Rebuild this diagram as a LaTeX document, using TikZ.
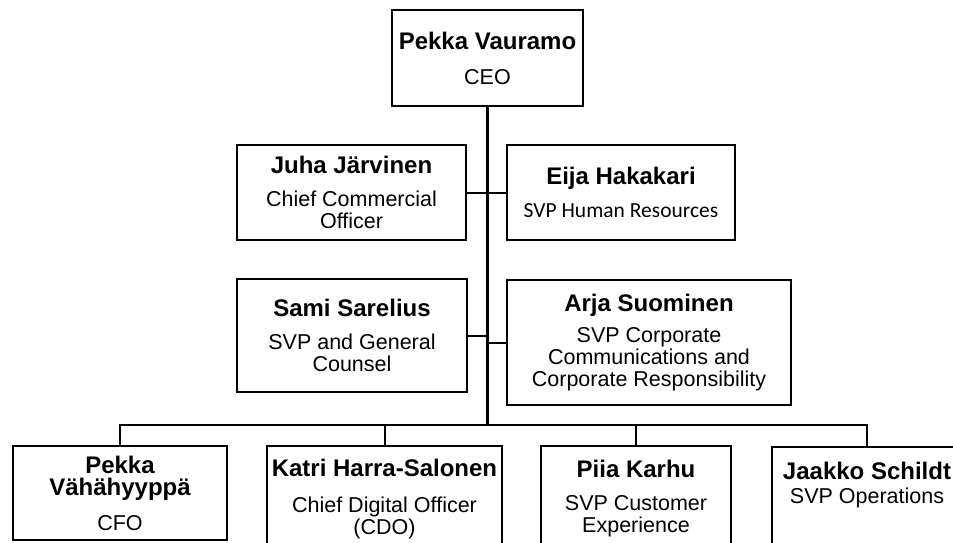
\documentclass[tikz,border=0pt]{standalone}
\usepackage{fontspec}
\setmainfont{Liberation Sans}
\newfontfamily\calib{Carlito}

\newcommand{\nm}[1]{{\bfseries\fontsize{24}{22}\selectfont #1}}

\tikzset{
  box/.style={draw, line width=1.8pt, align=center, inner sep=0pt,
    font=\fontsize{21.5}{22}\selectfont},
  link/.style={line width=2pt},
  trunk/.style={line width=3pt},
}

\begin{document}
\begin{tikzpicture}[x=1pt, y=-1pt]
    \useasboundingbox (0,0) rectangle (953,542);
    \clip (0,0) rectangle (953,542);
    \node[box, minimum width=191pt, minimum height=96pt] (ceo) at (487.5,58)
      {\nm{Pekka Vauramo}\\[13pt]CEO};
    \node[box, minimum width=229pt, minimum height=95pt] (juha) at (351.5,192.5)
      {\nm{Juha Järvinen}\\[11pt]Chief Commercial\\Officer};
    \node[box, minimum width=228pt, minimum height=95pt] (eija) at (621,192.5)
      {\nm{Eija Hakakari}\\[11pt]{\calib SVP Human Resources}};
    \node[box, minimum width=230pt, minimum height=113pt] (sami) at (352,335.5)
      {\nm{Sami Sarelius}\\[11pt]SVP and General\\Counsel};
    \node[box, minimum width=284pt, minimum height=125pt] (arja) at (649,342.5)
      {\nm{Arja Suominen}\\[9pt]SVP Corporate\\Communications and\\Corporate Responsibility};
    \node[box, minimum width=214pt, minimum height=94pt] (pekkav) at (120,493)
      {\nm{Pekka}\\\nm{Vähähyyppä}\\[13pt]CFO};
    \node[box, minimum width=235pt, minimum height=106pt] (katri) at (384.5,499)
      {\nm{Katri Harra-Salonen}\\[14pt]Chief Digital Officer\\(CDO)};
    \node[box, minimum width=190pt, minimum height=106pt] (piia) at (636,499)
      {\nm{Piia Karhu}\\[11pt]SVP Customer\\Experience};
    \node[box, minimum width=190pt, minimum height=130pt, anchor=north] (jaakko) at (867,446) {};
    \node[box, draw=none, anchor=north] (jaakkotxt) at (867,461)
      {\nm{Jaakko Schildt}\\[2pt]SVP Operations};
    \coordinate (bus) at (487.5,425);
    \draw[trunk] (ceo.south) -- (bus);
    \draw[link] (juha.east) -- (eija.west);
    \draw[link] (sami.east) -- (sami.east -| bus);
    \draw[link] (arja.west) -- (arja.west -| bus);
    \draw[link] (pekkav.north) -- (pekkav.north |- bus) -- (jaakko.north |- bus) -- (jaakko.north);
    \draw[link] (katri.north) -- (katri.north |- bus);
    \draw[link] (piia.north) -- (piia.north |- bus);
  \end{tikzpicture}
\end{document}
